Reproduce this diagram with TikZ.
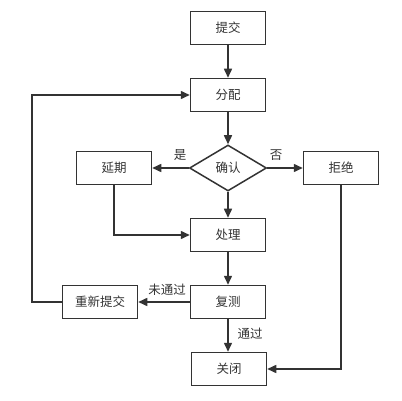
\documentclass[tikz,border=0pt]{standalone}
\usepackage{fontspec}
\newfontfamily\cjk{Noto Sans CJK SC}
\usetikzlibrary{shapes.geometric,arrows.meta}
\definecolor{ink}{HTML}{333333}
\begin{document}
\begin{tikzpicture}[x=1pt,y=-1pt,
  every node/.style={font=\cjk\fontsize{12.5}{14}\selectfont, text=ink},
  box/.style={draw=ink, line width=1.5pt, minimum width=75pt, minimum height=33pt, inner sep=0pt},
  dia/.style={draw=ink, line width=1.5pt, diamond, aspect=1.67, minimum width=77pt, minimum height=46pt, inner sep=0pt},
  conn/.style={draw=ink, line width=1.5pt, -{Triangle[length=9pt,width=8pt]}},
  lbl/.style={inner sep=1pt}]
\useasboundingbox (0,0) rectangle (402,401);
\node[box] (submit) at (228,28) {提交};
\node[box] (assign) at (228,95) {分配};
\node[dia] (confirm) at (228,168) {确认};
\node[box] (delay) at (114,168) {延期};
\node[box] (reject) at (341,168) {拒绝};
\node[box] (process) at (228,235) {处理};
\node[box] (retest) at (228,302) {复测};
\node[box] (resubmit) at (100,302) {重新提交};
\node[box] (close) at (229,369) {关闭};
\coordinate (loop) at (32,302);
\coordinate (loopt) at (32,95);
\draw[conn] (submit) -- (assign);
\draw[conn] (assign) -- (confirm);
\draw[conn] (confirm) -- (delay);
\draw[conn] (confirm) -- (reject);
\draw[conn] (confirm) -- (process);
\draw[conn] (delay.south) |- (process.west);
\draw[conn] (process) -- (retest);
\draw[conn] (retest) -- (resubmit);
\draw[conn] (retest.south) -- (retest.south |- close.north);
\draw[conn] (reject.south) |- (close.east);
\draw[conn] (resubmit.west) -- (loop) -- (loopt) -- (assign.west);
\node[lbl] at (180,155) {是};
\node[lbl] at (276,155) {否};
\node[lbl] at (167,290) {未通过};
\node[lbl] at (250,334) {通过};
\end{tikzpicture}
\end{document}
